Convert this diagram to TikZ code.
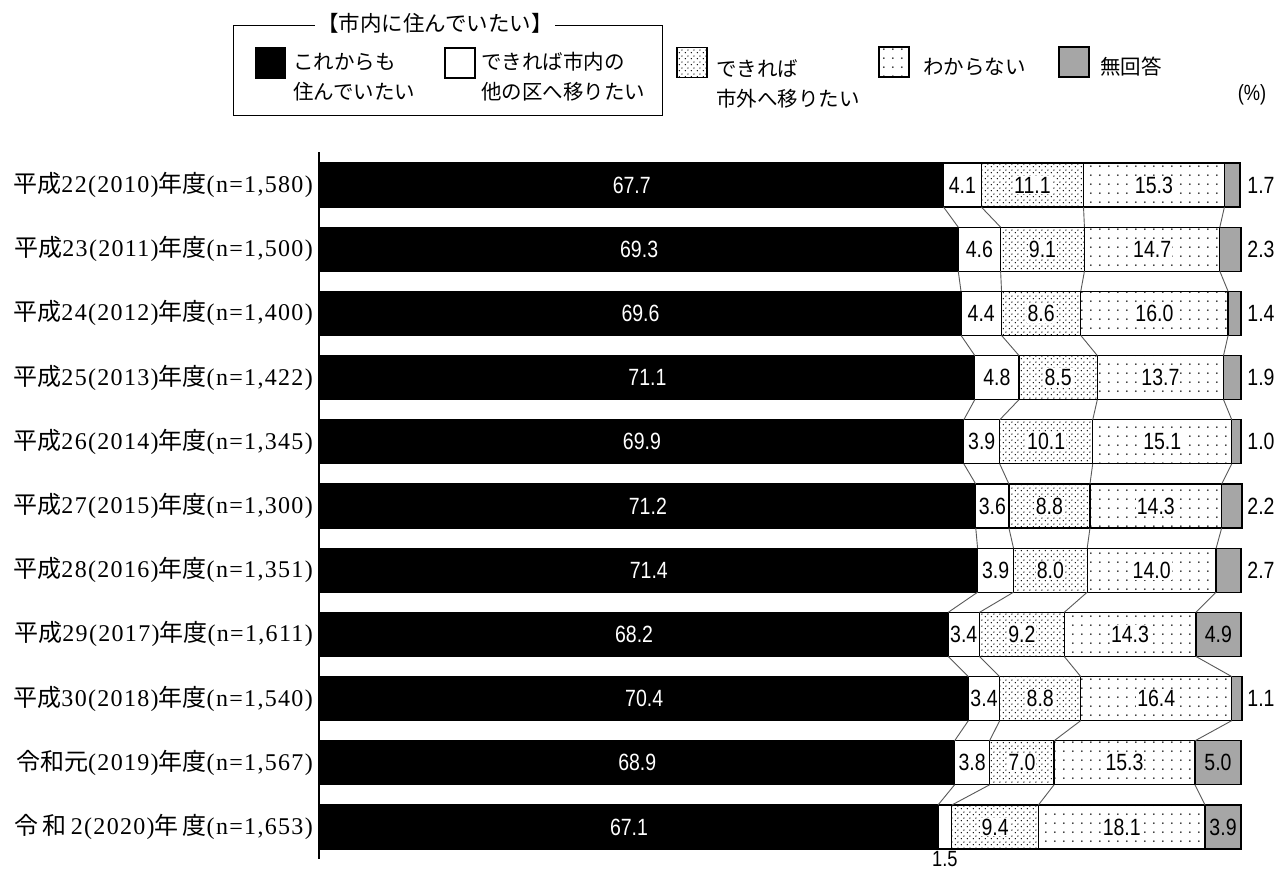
\documentclass[tikz,border=0pt]{standalone}
\usepackage{fontspec}
\setmainfont[LetterSpace=5.5]{Liberation Serif}
\newfontfamily\jp{Noto Sans CJK JP}
\newfontfamily\num[FakeStretch=0.83]{Liberation Sans}
\usetikzlibrary{patterns}
\pgfdeclarepatternformonly{densedots}{\pgfqpoint{0pt}{0pt}}{\pgfqpoint{6pt}{6pt}}{\pgfqpoint{6pt}{6pt}}{%
  \pgfpathcircle{\pgfqpoint{1.5pt}{1.5pt}}{0.8pt}%
  \pgfpathcircle{\pgfqpoint{4.5pt}{4.5pt}}{0.8pt}%
  \pgfusepath{fill}}
\pgfdeclarepatternformonly{sparsedots}{\pgfqpoint{0pt}{0pt}}{\pgfqpoint{9pt}{9pt}}{\pgfqpoint{9pt}{9pt}}{%
  \pgfpathcircle{\pgfqpoint{2pt}{2pt}}{0.95pt}%
  \pgfusepath{fill}}
\definecolor{nagray}{HTML}{A6A6A6}
\begin{document}
\begin{tikzpicture}[x=1pt,y=-1pt,
  seg/.style={draw=black, line width=1.3pt, minimum height=44pt, inner sep=0pt, outer sep=0pt, anchor=west},
  val/.style={font=\num\fontsize{23.5}{23.5}\selectfont, inner sep=1pt},
  lab/.style={anchor=east, font=\fontsize{24}{24}\selectfont, inner sep=0pt},
  conn/.style={draw=black!65, line width=0.9pt},
  legsq/.style={draw=black, line width=1.2pt, minimum size=30pt, inner sep=0pt},
  legtx/.style={anchor=west, align=left, inner sep=0pt, font=\jp\fontsize{20.5}{30}\selectfont}]
\useasboundingbox[fill=white] (0,0) rectangle (1280,870);

% legend
\draw[line width=1pt] (233,25) rectangle (662,115);
\node[fill=white, inner sep=2pt, font=\jp\fontsize{21.5}{21.5}\selectfont] (legtitle) at (435,23) {【市内に住んでいたい】};
\node[legsq, fill=black] (lk1) at (270.5,63) {};
\node[legtx] (lt1) at (293,77) {これからも\\住んでいたい};
\node[legsq, fill=white] (lk2) at (460,63) {};
\node[legtx] (lt2) at (481,77) {できれば市内の\\他の区へ移りたい};
\node[legsq, pattern=densedots] (lk3) at (692,62.5) {};
\node[legtx] (lt3) at (716,84) {できれば\\市外へ移りたい};
\node[legsq, pattern=sparsedots] (lk4) at (894,62) {};
\node[legtx] (lt4) at (923,67) {わからない};
\node[legsq, fill=nagray] (lk5) at (1074,62) {};
\node[legtx] (lt5) at (1100,67) {無回答};

\node[font=\num\fontsize{22}{22}\selectfont] (pct) at (1252,95) {(\%)};

% axis
\coordinate (axtop) at (319,152);
\coordinate (axbot) at (319,859);
\draw[line width=1.3pt] (axtop) -- (axbot);

\foreach \i/\a/\b/\c/\d/\e/\lb in {
  0/67.7/4.1/11.1/15.3/1.7/{{\jp 平成}22(2010){\jp 年度}(n=1,580)},
  1/69.3/4.6/9.1/14.7/2.3/{{\jp 平成}23(2011){\jp 年度}(n=1,500)},
  2/69.6/4.4/8.6/16.0/1.4/{{\jp 平成}24(2012){\jp 年度}(n=1,400)},
  3/71.1/4.8/8.5/13.7/1.9/{{\jp 平成}25(2013){\jp 年度}(n=1,422)},
  4/69.9/3.9/10.1/15.1/1.0/{{\jp 平成}26(2014){\jp 年度}(n=1,345)},
  5/71.2/3.6/8.8/14.3/2.2/{{\jp 平成}27(2015){\jp 年度}(n=1,300)},
  6/71.4/3.9/8.0/14.0/2.7/{{\jp 平成}28(2016){\jp 年度}(n=1,351)},
  7/68.2/3.4/9.2/14.3/4.9/{{\jp 平成}29(2017){\jp 年度}(n=1,611)},
  8/70.4/3.4/8.8/16.4/1.1/{{\jp 平成}30(2018){\jp 年度}(n=1,540)},
  9/68.9/3.8/7.0/15.3/5.0/{{\jp 令和元}(2019){\jp 年度}(n=1,567)},
  10/67.1/1.5/9.4/18.1/3.9/{{\jp 令\,和\,}2(2020){\jp 年\,度}(n=1,653)}}{
  \pgfmathsetmacro\yc{185+64.2*\i}
  \pgfmathsetmacro\wA{9.21*\a}
  \pgfmathsetmacro\wB{9.21*\b}
  \pgfmathsetmacro\wC{9.21*\c}
  \pgfmathsetmacro\wD{9.21*\d}
  \pgfmathsetmacro\wE{9.21*\e}
  \node[lab] (lab\i) at (313,\yc) {\lb};
  \node[seg, fill=black, minimum width=\wA pt] (r\i-a) at (320,\yc) {};
  \node[seg, fill=white, minimum width=\wB pt] (r\i-b) at (r\i-a.east) {};
  \node[seg, pattern=densedots, minimum width=\wC pt] (r\i-c) at (r\i-b.east) {};
  \node[seg, pattern=sparsedots, minimum width=\wD pt] (r\i-d) at (r\i-c.east) {};
  \node[seg, fill=nagray, minimum width=\wE pt] (r\i-e) at (r\i-d.east) {};
  \node[val, text=white] (v\i-a) at (r\i-a.center) {\a};
  \pgfmathtruncatemacro\bsmall{\b<2}
  \ifnum\bsmall=1
    \node[val, anchor=north, inner sep=0pt, font=\num\fontsize{22}{22}\selectfont] (v\i-b) at ([yshift=-2pt]r\i-b.south) {\b};
  \else
    \node[val] (v\i-b) at (r\i-b.center) {\b};
  \fi
  \node[val, fill=white] (v\i-c) at (r\i-c.center) {\c};
  \node[val, fill=white] (v\i-d) at (r\i-d.center) {\d};
  \pgfmathtruncatemacro\esmall{\e<3.5}
  \ifnum\esmall=1
    \node[val] (v\i-e) at (1261,\yc) {\e};
  \else
    \node[val] (v\i-e) at (r\i-e.center) {\e};
  \fi
}
\foreach \i in {0,...,9}{
  \pgfmathtruncatemacro\j{\i+1}
  \foreach \k in {a,b,c,d}{
    \draw[conn] (r\i-\k.south east) -- (r\j-\k.north east);
  }
}
\end{tikzpicture}
\end{document}
